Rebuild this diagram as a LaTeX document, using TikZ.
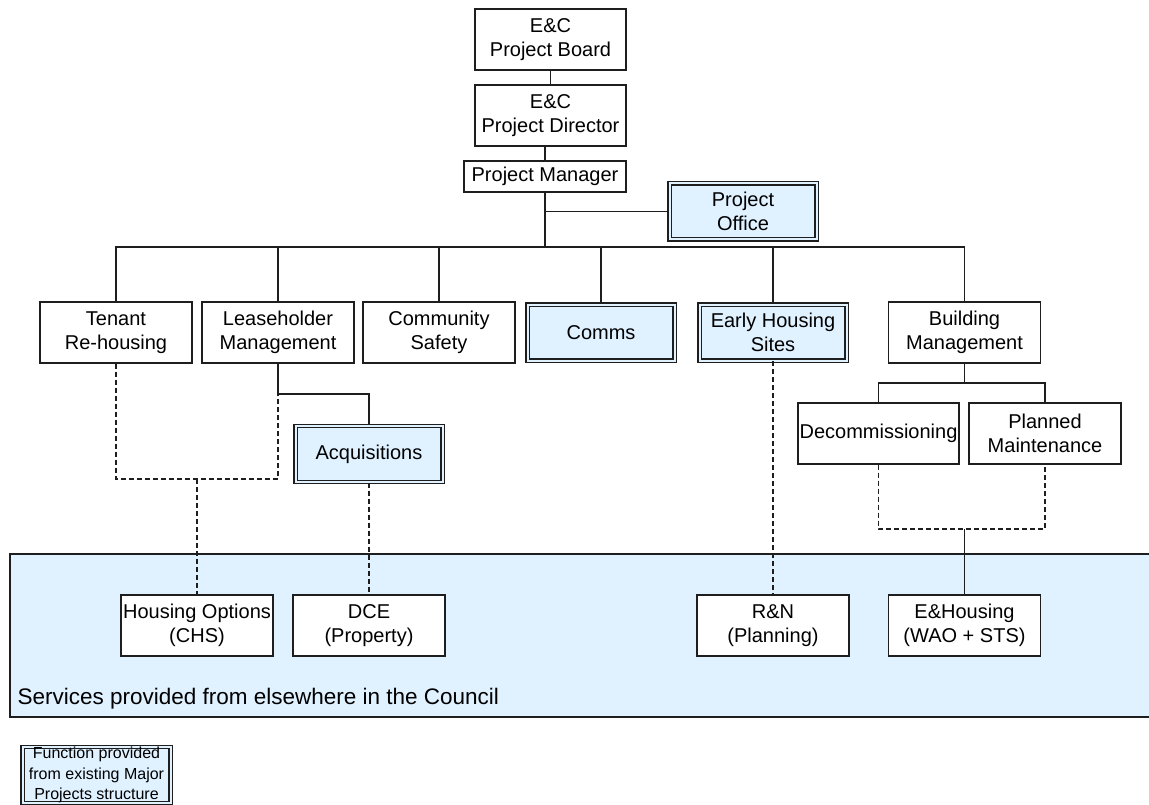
\documentclass[tikz,border=0pt]{standalone}
\usepackage{fontspec}
\setmainfont{Liberation Sans}
\usepackage{xcolor}
\definecolor{ecblue}{RGB}{224,242,255}
\definecolor{ecline}{RGB}{30,30,30}

\begin{document}
\begin{tikzpicture}[
  x=1pt,y=-1pt,
  every node/.style={font=\fontsize{20}{24}\selectfont},
  orgbox/.style={draw=ecline,line width=1.2pt,fill=white,minimum width=152pt,
                 minimum height=61pt,align=center,inner sep=0pt},
  mpbox/.style={orgbox,fill=ecblue,double=ecblue,double distance=2pt,line width=1.3pt,
                minimum width=147pt,minimum height=56pt},
  link/.style={draw=ecline,line width=1.1pt},
  svclink/.style={link,dash pattern=on 5pt off 3pt},
]
  \useasboundingbox (0,0) rectangle (1149,805);

  % Services band
  \draw[fill=ecblue,draw=ecline,line width=1.2pt] (10,554) rectangle (1165,717);
  \node[anchor=base west,font=\fontsize{22.5}{27}\selectfont] (svctext) at (14,704)
    {Services provided from elsewhere in the Council};

  % Top of the structure
  \node[orgbox,minimum width=151pt] (board) at (550.5,39.5) {E\&C\\Project Board};
  \node[orgbox,minimum width=151pt] (director) at (550.5,115.5) {E\&C\\Project Director};
  \node[orgbox,minimum width=162pt,minimum height=31pt] (manager) at (545,176.5) {Project Manager};
  \node[mpbox] (office) at (743,211.5) {Project\\Office};

  % Workstreams
  \node[orgbox] (tenant) at (116,332.5) {Tenant\\Re-housing};
  \node[orgbox] (lease) at (278,332.5) {Leaseholder\\Management};
  \node[orgbox] (safety) at (439,332.5) {Community\\Safety};
  \node[mpbox] (comms) at (601,332.5) {Comms};
  \node[mpbox] (early) at (773,332.5) {Early Housing\\Sites};
  \node[orgbox] (building) at (964.5,332.5) {Building\\Management};

  \node[mpbox] (acq) at (369,454) {Acquisitions};
  \node[orgbox,minimum width=161pt] (decom) at (878.5,433.5) {Decommissioning};
  \node[orgbox] (planned) at (1045,433.5) {Planned\\Maintenance};

  % Council services
  \node[orgbox] (hsgopt) at (197,625.5) {Housing Options\\(CHS)};
  \node[orgbox] (dce) at (369,625.5) {DCE\\(Property)};
  \node[orgbox] (rn) at (773,625.5) {R\&N\\(Planning)};
  \node[orgbox] (ehsg) at (964.5,625.5) {E\&Housing\\(WAO + STS)};

  % Key
  \node[mpbox,minimum width=148pt,minimum height=56pt,font=\fontsize{16}{20.5}\selectfont]
    (legend) at (96.5,775) {Function provided\\from existing Major\\Projects structure};

  % Reporting lines
  \coordinate (hbar) at (545,247);
  \coordinate (acqbend) at (369,394);
  \coordinate (bmbar) at (964.5,383);
  \draw[link] (board) -- (director);
  \draw[link] (manager.north) -- (manager.north |- director.south);
  \draw[link,line width=2pt] (manager.south) -- (hbar);
  \draw[link] (manager.south |- office.west) -- (office.west);
  \draw[link] (tenant.north) |- (hbar) -| (building.north);
  \foreach \n in {lease,safety,comms,early}
    \draw[link] (\n.north) -- (\n.north |- hbar);
  \draw[link] (lease.south) |- (acqbend) -- (acq.north);
  \draw[link] (building.south) -- (bmbar);
  \draw[link] (decom.north) |- (bmbar) -| (planned.north);

  % Links to council services
  \coordinate (hsgjoin) at (197,479);
  \coordinate (ehsgjoin) at (964.5,529);
  \draw[svclink] (tenant.south) |- (hsgjoin) -| (lease.south);
  \draw[svclink] (hsgjoin) -- (hsgopt.north);
  \draw[svclink] (acq.south) -- (dce.north);
  \draw[svclink] (early.south) -- (rn.north);
  \draw[svclink] (decom.south) |- (ehsgjoin) -| (planned.south);
  \draw[link] (ehsgjoin) -- (ehsg.north);
\end{tikzpicture}
\end{document}
